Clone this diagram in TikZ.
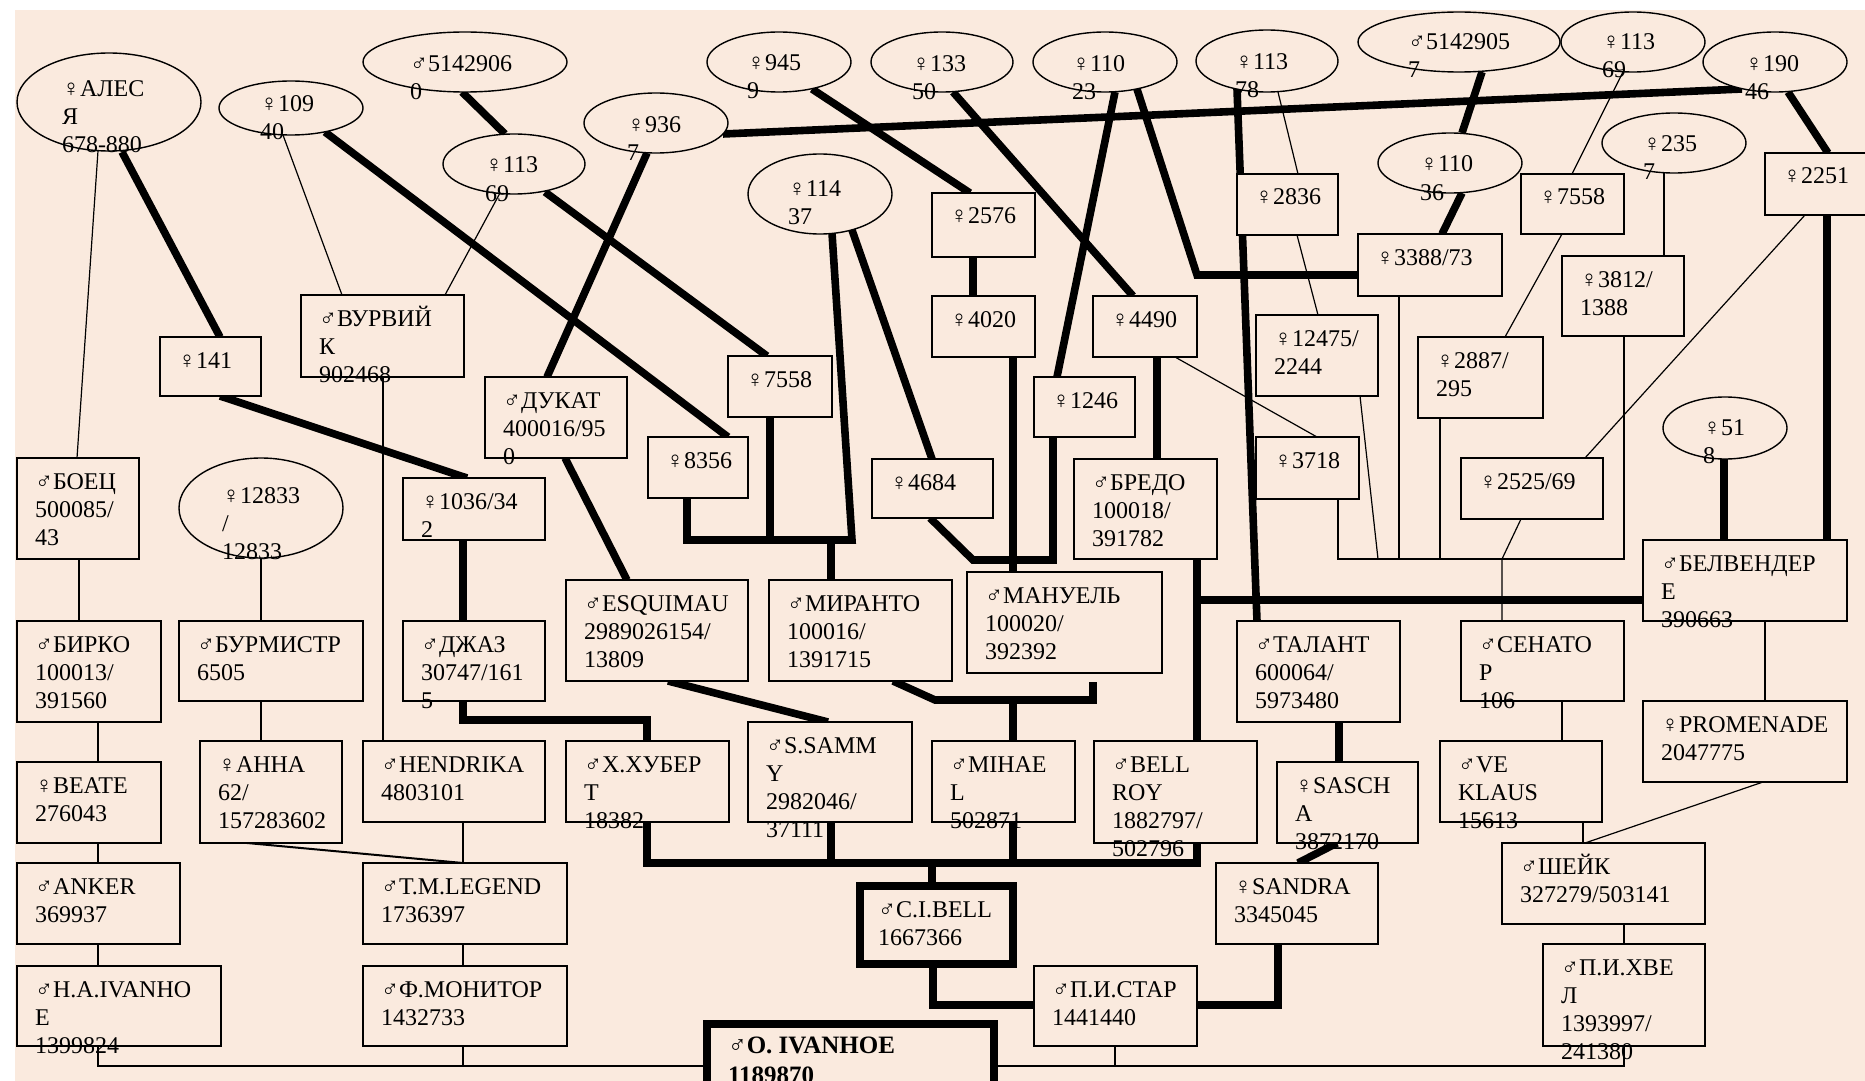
\documentclass[tikz,border=0pt]{standalone}
\usepackage{fontspec}
\setmainfont{Liberation Serif}
\usetikzlibrary{shapes.geometric,calc}
\definecolor{bgpeach}{RGB}{250,234,222}
\pgfdeclarelayer{bglayer}
\pgfdeclarelayer{linelayer}
\pgfsetlayers{bglayer,linelayer,main}
\tikzset{
  gbox/.style={draw=black, line width=0.8pt, fill=bgpeach, rectangle, inner sep=0pt, outer sep=0pt},
  gell/.style={draw=black, line width=0.7pt, fill=bgpeach, ellipse, inner sep=0pt, outer sep=0pt},
  gtxt/.style={inner sep=0pt, outer sep=0pt, anchor=north west, align=left, font=\fontsize{12}{14}\selectfont},
  thk/.style={line width=3.8pt},
  thn/.style={line width=0.6pt},
  heavybox/.style={gbox, line width=4pt},
}
\newcommand{\gel}[8]{%
  \node[gell, minimum width={#4*1pt}, minimum height={#5*1pt}] (#1) at (#2,#3) {};
  \node[gtxt] (#1-t) at (#6,{#7-19.6}) {\strut#8};
}
\newcommand{\gbx}[6]{%
  \node[gbox, minimum width={(#4-#2)*0.5pt}, minimum height={(#5-#3)*0.5pt}] (#1) at ({(#2+#4)/2},{(#3+#5)/2}) {};
  \node[gtxt] (#1-t) at ({#2+18},{#3+31-19.6}) {\strut#6};
}
\begin{document}
\begin{tikzpicture}[x=0.5pt,y=-0.5pt]
\useasboundingbox (0,0) rectangle (1865,1081);
\begin{pgfonlayer}{bglayer}
\fill[white] (0,0) rectangle (1865,1081);
\fill[bgpeach] (15,10) rectangle (1865,1081);
\end{pgfonlayer}

% ellipses
\gel{alesya}{109}{102}{92}{49}{62}{97}{♀АЛЕС\\Я\\678-880}
\gel{e109}{291}{108}{72}{27}{260}{112}{♀109\\40}
\gel{e5142906}{465}{62}{102}{30}{410}{72}{♂5142906\\0}
\gel{e113a}{514}{164}{71}{30}{485}{173}{♀113\\69}
\gel{e936}{656}{123}{72}{30}{627}{133}{♀936\\7}
\gel{e945}{779}{62}{72}{30}{747}{71}{♀945\\9}
\gel{e133}{942}{62}{71}{30}{912}{72}{♀133\\50}
\gel{e114}{820}{194}{72}{40}{788}{197}{♀114\\37}
\gel{e110a}{1105}{62}{72}{30}{1072}{72}{♀110\\23}
\gel{e113b}{1267}{61}{71}{31}{1235}{70}{♀113\\78}
\gel{e5142905}{1459}{42}{101}{30}{1408}{50}{♂5142905\\7}
\gel{e110b}{1450}{163}{72}{30}{1420}{172}{♀110\\36}
\gel{e113c}{1633}{42}{72}{30}{1602}{50}{♀113\\69}
\gel{e190}{1775}{62}{72}{30}{1745}{72}{♀190\\46}
\gel{e235}{1674}{143}{72}{30}{1643}{152}{♀235\\7}
\gel{e51}{1725}{428}{62}{31}{1703}{435}{♀51\\8}
\gel{e12833}{261}{508}{82}{50}{222}{503}{♀12833\\/\\12833}

% boxes
\gbx{b141}{160}{337}{261}{396}{♀141}
\gbx{bvurv}{301}{295}{464}{377}{♂ВУРВИЙ\\К\\902468}
\gbx{bboec}{17}{458}{139}{559}{♂БОЕЦ\\500085/\\43}
\gbx{bbirko}{17}{621}{161}{722}{♂БИРКО\\100013/\\391560}
\gbx{bburm}{179}{621}{363}{701}{♂БУРМИСТР\\6505}
\gbx{b1036}{403}{478}{545}{540}{♀1036/34\\2}
\gbx{bdzhaz}{403}{621}{545}{701}{♂ДЖАЗ\\30747/161\\5}
\gbx{bdukat}{485}{377}{627}{458}{♂ДУКАТ\\400016/95\\0}
\gbx{b8356}{648}{437}{748}{498}{♀8356}
\gbx{b7558a}{728}{356}{832}{417}{♀7558}
\gbx{besq}{566}{580}{748}{681}{♂ESQUIMAU\\2989026154/\\13809}
\gbx{bmir}{769}{580}{952}{681}{♂МИРАНТО\\100016/\\1391715}
\gbx{b2576}{932}{193}{1035}{257}{♀2576}
\gbx{b4020}{932}{296}{1035}{357}{♀4020}
\gbx{b4490}{1093}{296}{1197}{357}{♀4490}
\gbx{b4684}{872}{459}{993}{518}{♀4684}
\gbx{b1246}{1034}{377}{1135}{437}{♀1246}
\gbx{bman}{967}{572}{1162}{673}{♂МАНУЕЛЬ\\100020/\\392392}
\gbx{bbredo}{1074}{459}{1217}{559}{♂БРЕДО\\100018/\\391782}
\gbx{b2836}{1237}{174}{1338}{235}{♀2836}
\gbx{b12475}{1256}{315}{1378}{396}{♀12475/\\2244}
\gbx{b3718}{1256}{437}{1359}{499}{♀3718}
\gbx{b3388}{1358}{234}{1502}{296}{♀3388/73}
\gbx{b7558b}{1521}{174}{1624}{234}{♀7558}
\gbx{b2887}{1418}{337}{1543}{418}{♀2887/\\295}
\gbx{b3812}{1562}{256}{1684}{336}{♀3812/\\1388}
\gbx{b2251}{1765}{153}{1866}{215}{♀2251}
\gbx{b2525}{1461}{458}{1603}{519}{♀2525/69}
\gbx{bbelv}{1643}{540}{1847}{621}{♂БЕЛВЕНДЕР\\Е\\390663}
\gbx{btal}{1237}{621}{1400}{722}{♂ТАЛАНТ\\600064/\\5973480}
\gbx{bsen}{1461}{621}{1624}{701}{♂СЕНАТО\\Р\\106}
\gbx{bprom}{1643}{701}{1847}{782}{♀PROMENADE\\2047775}
\gbx{bklaus}{1440}{741}{1602}{822}{♂VE\\KLAUS\\15613}
\gbx{bsheik}{1502}{843}{1705}{924}{♂ШЕЙК\\327279/503141}
\gbx{bhvel}{1543}{944}{1705}{1046}{♂П.И.ХВЕ\\Л\\1393997/\\241380}
\gbx{bbeate}{17}{762}{161}{843}{♀BEATE\\276043}
\gbx{banker}{17}{863}{180}{944}{♂ANKER\\369937}
\gbx{bhaiv}{17}{966}{221}{1046}{♂H.A.IVANHO\\E\\1399824}
\gbx{banna}{200}{741}{342}{843}{♀АННА\\62/\\157283602}
\gbx{bhend}{363}{741}{545}{822}{♂HENDRIKA\\4803101}
\gbx{btml}{363}{863}{567}{944}{♂T.M.LEGEND\\1736397}
\gbx{bmon}{363}{966}{567}{1046}{♂Ф.МОНИТОР\\1432733}
\gbx{bhub}{566}{741}{729}{822}{♂Х.ХУБЕР\\Т\\18382}
\gbx{bsam}{748}{722}{912}{822}{♂S.SAMM\\Y\\2982046/\\37111}
\gbx{bmih}{932}{741}{1075}{822}{♂MIHAE\\L\\502871}
\gbx{bbellroy}{1094}{741}{1257}{843}{♂BELL\\ROY\\1882797/\\502796}
\gbx{bsascha}{1277}{762}{1418}{843}{♀SASCH\\A\\3872170}
\gbx{bsandra}{1216}{863}{1378}{944}{♀SANDRA\\3345045}
\gbx{bstar}{1034}{966}{1197}{1046}{♂П.И.СТАР\\1441440}
\node[heavybox, minimum width={153*0.5pt}, minimum height={78*0.5pt}] (bcib) at (936.5,925) {};
\node[gtxt] (bcib-t) at (878,{917-19.6}) {\strut♂C.I.BELL\\1667366};
\node[heavybox, minimum width={287*0.5pt}, minimum height={76*0.5pt}] (boiv) at (850.5,1062) {};
\node[gtxt, font=\fontsize{12.5}{15}\selectfont\bfseries] (boiv-t) at (728,{1053-21}) {\strut♂O. IVANHOE\\1189870};

\begin{pgfonlayer}{linelayer}
\draw[thk] ([shift={(13,50)}]alesya.center) -- ([shift={(60,0)}]b141.north west);
\draw[thn] ([shift={(-11,49)}]alesya.center) -- ([shift={(60,0)}]bboec.north west);
\draw[thn] ([shift={(-8,27)}]e109.center) -- ([shift={(41,0)}]bvurv.north west);
\draw[thk] ([shift={(34,24)}]e109.center) -- ([shift={(80,0)}]b8356.north west);
\draw[thk] ([shift={(-3,30)}]e5142906.center) -- ([shift={(-9,-30)}]e113a.center);
\draw[thn] ([shift={(-14,29)}]e113a.center) -- ([shift={(144,0)}]bvurv.north west);
\draw[thk] ([shift={(31,28)}]e113a.center) -- ([shift={(39,0)}]b7558a.north west);
\draw[thk] ([shift={(-9,30)}]e936.center) -- ([shift={(62,0)}]bdukat.north west);
\draw[thk] ([shift={(67,11)}]e936.center) -- ([shift={(-33,27)}]e190.center);
\draw[thk] ([shift={(33,27)}]e945.center) -- ([shift={(38,0)}]b2576.north west);
\draw[thk] ([shift={(11,30)}]e133.center) -- ([shift={(40,0)}]b4490.north west);
\draw[thk] ([shift={(39,0)}]b8356.south west) -- ++(0,42) -- ++(165,0) -- ([shift={(12,39)}]e114.center);
\draw[thk] ([shift={(42,0)}]b7558a.south west) -- ++(0,123);
\draw[thk] ([shift={(62,0)}]bmir.north west) -- ++(0,-40);
\draw[thk] ([shift={(32,36)}]e114.center) -- ([shift={(60,0)}]b4684.north west);
\draw[thk] ([shift={(41,0)}]b2576.south west) -- ([shift={(41,0)}]b4020.north west);
\draw[thk] ([shift={(81,0)}]b4020.south west) -- ([shift={(46,0)}]bman.north west);
\draw[thk] ([shift={(58,0)}]b4684.south west) -- ++(43,42) -| ([shift={(19,0)}]b1246.south west);
\draw[thk] ([shift={(10,30)}]e110a.center) -- ([shift={(23,0)}]b1246.north west);
\draw[thk] ([shift={(32,27)}]e110a.center) -- ([shift={(-161,41)}]b3388.north west) -- ([shift={(0,41)}]b3388.north west);
\draw[thk] ([shift={(-30,28)}]e113b.center) -- ([shift={(20,0)}]btal.north west);
\draw[thn] ([shift={(11,31)}]e113b.center) -- ([shift={(61,0)}]b2836.north west);
\draw[thn] ([shift={(60,0)}]b2836.south west) -- ([shift={(62,0)}]b12475.north west);
\draw[thn] ([shift={(82,0)}]b4490.south west) -- ([shift={(61,0)}]b3718.north west);
\draw[thk] ([shift={(64,0)}]b4490.south west) -- ([shift={(83,0)}]bbredo.north west);
\draw[thk] ([shift={(123,0)}]bbredo.south west) -- ([shift={(103,0)}]bbellroy.north west);
\draw[thk] ([shift={(123,41)}]bbredo.south west) -- ([shift={(0,60)}]bbelv.north west);
\draw[thk] ([shift={(23,30)}]e5142905.center) -- ([shift={(12,-30)}]e110b.center);
\draw[thk] ([shift={(12,30)}]e110b.center) -- ([shift={(84,0)}]b3388.north west);
\draw[thn] ([shift={(-10,30)}]e113c.center) -- ([shift={(51,0)}]b7558b.north west);
\draw[thn] ([shift={(41,0)}]b7558b.south west) -- ([shift={(87,0)}]b2887.north west);
\draw[thk] ([shift={(13,30)}]e190.center) -- ([shift={(63,0)}]b2251.north west);
\draw[thn] ([shift={(-10,30)}]e235.center) -- ([shift={(102,0)}]b3812.north west);
\draw[thn] ([shift={(40,0)}]b2251.south west) -- ([shift={(124,0)}]b2525.north west);
\draw[thk] ([shift={(62,0)}]b2251.south west) -- ([shift={(184,0)}]bbelv.north west);
\draw[thk] ([shift={(-1,31)}]e51.center) -- ([shift={(81,0)}]bbelv.north west);
\draw[thn] ([shift={(82,0)}]b3718.south west) -- ++(0,60) -| ([shift={(62,0)}]b3812.south west);
\draw[thn] ([shift={(104,0)}]b12475.south west) -- ++(18,163);
\draw[thn] ([shift={(41,0)}]b3388.south west) -- ++(0,263);
\draw[thn] ([shift={(22,0)}]b2887.south west) -- ++(0,141);
\draw[thn] ([shift={(60,0)}]b2525.south west) -- ++(-19,40) -- ([shift={(41,0)}]bsen.north west);
\draw[thn] ([shift={(122,0)}]bbelv.south west) -- ([shift={(122,0)}]bprom.north west);
\draw[thn] ([shift={(101,0)}]bsen.south west) -- ([shift={(122,0)}]bklaus.north west);
\draw[thn] ([shift={(143,0)}]bklaus.south west) -- ([shift={(81,0)}]bsheik.north west);
\draw[thn] ([shift={(120,0)}]bprom.south west) -- ([shift={(83,0)}]bsheik.north west);
\draw[thn] ([shift={(122,0)}]bsheik.south west) -- ([shift={(81,0)}]bhvel.north west);
\draw[thn] ([shift={(81,0)}]bhvel.south west) -- ++(0,20) -| ([shift={(81,0)}]bhaiv.south west);
\draw[thn] ([shift={(100,0)}]bmon.south west) -- ++(0,20);
\draw[thn] ([shift={(81,0)}]bstar.south west) -- ++(0,20);
\draw[thk] ([shift={(81,0)}]bhub.south west) -- ++(0,41) -| ([shift={(103,0)}]bbellroy.south west);
\draw[thk] ([shift={(83,0)}]bsam.south west) -- ++(0,41);
\draw[thk] ([shift={(81,0)}]bmih.south west) -- ++(0,41);
\draw[thk] ([shift={(72,0)}]bcib.north west) -- ++(0,-23);
\draw[thk] ([shift={(60,0)}]bdzhaz.south west) -- ++(0,19) -| ([shift={(81,0)}]bhub.north west);
\draw[thk] ([shift={(60,0)}]b141.south west) -- ([shift={(64,0)}]b1036.north west);
\draw[thk] ([shift={(60,0)}]b1036.south west) -- ([shift={(60,0)}]bdzhaz.north west);
\draw[thn] ([shift={(82,0)}]bvurv.south west) -- ([shift={(20,0)}]bhend.north west);
\draw[thn] ([shift={(0,50)}]e12833.center) -- ([shift={(82,0)}]bburm.north west);
\draw[thn] ([shift={(82,0)}]bburm.south west) -- ([shift={(61,0)}]banna.north west);
\draw[thn] ([shift={(62,0)}]bboec.south west) -- ([shift={(62,0)}]bbirko.north west);
\draw[thn] ([shift={(81,0)}]bbirko.south west) -- ([shift={(81,0)}]bbeate.north west);
\draw[thn] ([shift={(81,0)}]bbeate.south west) -- ([shift={(81,0)}]banker.north west);
\draw[thn] ([shift={(81,0)}]banker.south west) -- ([shift={(81,0)}]bhaiv.north west);
\draw[thn, line width=1pt] ([shift={(47,0)}]banna.south west) -- ([shift={(100,0)}]btml.north west);
\draw[thn] ([shift={(100,0)}]bhend.south west) -- ([shift={(100,0)}]btml.north west);
\draw[thn] ([shift={(100,0)}]btml.south west) -- ([shift={(100,0)}]bmon.north west);
\draw[thk] ([shift={(80,0)}]bdukat.south west) -- ([shift={(61,0)}]besq.north west);
\draw[thk] ([shift={(102,0)}]besq.south west) -- ([shift={(80,0)}]bsam.north west);
\draw[thk] ([shift={(124,0)}]bmir.south west) -- ++(42,19) -- ([shift={(126,27)}]bman.south west) -- ([shift={(126,9)}]bman.south west);
\draw[thk] ([shift={(46,27)}]bman.south west) -- ([shift={(81,0)}]bmih.north west);
\draw[thk] ([shift={(73,0)}]bcib.south west) |- ([shift={(0,39)}]bstar.north west);
\draw[thk] ([shift={(62,0)}]bsandra.south west) |- ([shift={(0,39)}]bstar.north east);
\draw[thk] ([shift={(102,0)}]btal.south west) -- ([shift={(62,0)}]bsascha.north west);
\draw[thk] ([shift={(82,0)}]bsandra.north west) -- ([shift={(60,0)}]bsascha.south west);
\end{pgfonlayer}
\end{tikzpicture}
\end{document}
